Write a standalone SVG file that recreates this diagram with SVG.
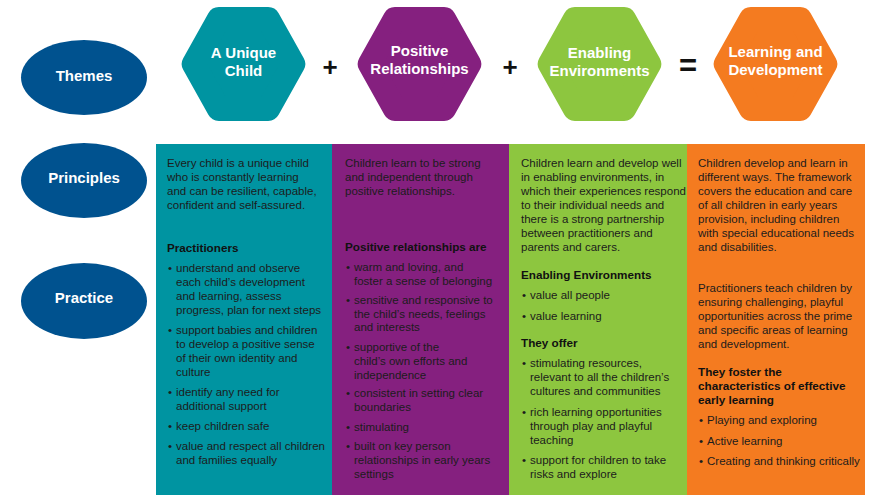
<svg xmlns="http://www.w3.org/2000/svg" xmlns:xlink="http://www.w3.org/1999/xlink" width="889" height="502" viewBox="0 0 889 502">
<style>
.ell{fill:#00528f}
.lbl{font-family:"Liberation Sans",Arial,sans-serif;font-weight:bold;font-size:15px;fill:#fff;text-anchor:middle}
.op{font-family:"Liberation Sans",Arial,sans-serif;font-weight:bold;fill:#111;text-anchor:middle}
.hex{stroke-width:24;stroke-linejoin:round}
.teal{fill:#0094a1;stroke:#0094a1}
.purple{fill:#85207f;stroke:#85207f}
.green{fill:#8dc63f;stroke:#8dc63f}
.orange{fill:#f47b20;stroke:#f47b20}
.tx{font-family:"Liberation Sans",Arial,sans-serif;font-size:11.5px;fill:#1c1c1c}
.hd{font-family:"Liberation Sans",Arial,sans-serif;font-size:11.7px;font-weight:bold;fill:#111}
</style>
<defs>
<polygon id="hexshape" points="-49.8,0 -24.65,-45 24.65,-45 49.8,0 24.65,45 -24.65,45"/>
</defs>
<rect width="889" height="502" fill="#fff"/>

<g id="themes">
<ellipse class="ell" cx="84" cy="77.5" rx="63" ry="37.5"/>
<text class="lbl" x="84" y="81">Themes</text>
</g>
<g id="principles">
<ellipse class="ell" cx="84" cy="180.5" rx="63" ry="37.5"/>
<text class="lbl" x="84" y="183">Principles</text>
</g>
<g id="practice">
<ellipse class="ell" cx="84" cy="301" rx="63" ry="38"/>
<text class="lbl" x="84" y="303">Practice</text>
</g>

<g id="unique-child">
<use xlink:href="#hexshape" href="#hexshape" class="hex teal" transform="translate(243.5,64)"/>
<text class="lbl" x="243.5" y="58">A Unique</text>
<text class="lbl" x="243.5" y="76">Child</text>
</g>
<g id="positive-relationships">
<use xlink:href="#hexshape" href="#hexshape" class="hex purple" transform="translate(419.5,64)"/>
<text class="lbl" x="419.5" y="56">Positive</text>
<text class="lbl" x="419.5" y="74">Relationships</text>
</g>
<g id="enabling-environments">
<use xlink:href="#hexshape" href="#hexshape" class="hex green" transform="translate(599.5,64)"/>
<text class="lbl" x="599.5" y="58">Enabling</text>
<text class="lbl" x="599.5" y="76">Environments</text>
</g>
<g id="learning-development">
<use xlink:href="#hexshape" href="#hexshape" class="hex orange" transform="translate(775.5,64)"/>
<text class="lbl" x="775.5" y="57">Learning and</text>
<text class="lbl" x="775.5" y="75">Development</text>
</g>

<g id="connectors">
<text class="op" x="330" y="76" font-size="26">+</text>
<text class="op" x="510" y="76" font-size="26">+</text>
<text class="op" x="688" y="76" font-size="31">=</text>
</g>

<g id="col-unique-child">
<rect x="156" y="144" width="176" height="351" fill="#0094a1"/>
<text class="tx" x="167" y="167">Every child is a unique child</text>
<text class="tx" x="167" y="181">who is constantly learning</text>
<text class="tx" x="167" y="195">and can be resilient, capable,</text>
<text class="tx" x="167" y="209">confident and self-assured.</text>
<text class="hd" x="167" y="252">Practitioners</text>
<text class="tx" x="168" y="272">•</text>
<text class="tx" x="176" y="272">understand and observe</text>
<text class="tx" x="176" y="286">each child’s development</text>
<text class="tx" x="176" y="300">and learning, assess</text>
<text class="tx" x="176" y="314">progress, plan for next steps</text>
<text class="tx" x="168" y="334">•</text>
<text class="tx" x="176" y="334">support babies and children</text>
<text class="tx" x="176" y="348">to develop a positive sense</text>
<text class="tx" x="176" y="362">of their own identity and</text>
<text class="tx" x="176" y="376">culture</text>
<text class="tx" x="168" y="396">•</text>
<text class="tx" x="176" y="396">identify any need for</text>
<text class="tx" x="176" y="410">additional support</text>
<text class="tx" x="168" y="430">•</text>
<text class="tx" x="176" y="430">keep children safe</text>
<text class="tx" x="168" y="450">•</text>
<text class="tx" x="176" y="450">value and respect all children</text>
<text class="tx" x="176" y="464">and families equally</text>
</g>

<g id="col-positive-relationships">
<rect x="332" y="144" width="177" height="351" fill="#85207f"/>
<text class="tx" x="345" y="167">Children learn to be strong</text>
<text class="tx" x="345" y="181">and independent through</text>
<text class="tx" x="345" y="195">positive relationships.</text>
<text class="hd" x="345" y="251">Positive relationships are</text>
<text class="tx" x="346" y="271">•</text>
<text class="tx" x="354" y="271">warm and loving, and</text>
<text class="tx" x="354" y="285">foster a sense of belonging</text>
<text class="tx" x="346" y="304">•</text>
<text class="tx" x="354" y="304">sensitive and responsive to</text>
<text class="tx" x="354" y="318">the child’s needs, feelings</text>
<text class="tx" x="354" y="331">and interests</text>
<text class="tx" x="346" y="351">•</text>
<text class="tx" x="354" y="351">supportive of the</text>
<text class="tx" x="354" y="365">child’s own efforts and</text>
<text class="tx" x="354" y="379">independence</text>
<text class="tx" x="346" y="397">•</text>
<text class="tx" x="354" y="397">consistent in setting clear</text>
<text class="tx" x="354" y="411">boundaries</text>
<text class="tx" x="346" y="431">•</text>
<text class="tx" x="354" y="431">stimulating</text>
<text class="tx" x="346" y="450">•</text>
<text class="tx" x="354" y="450">built on key person</text>
<text class="tx" x="354" y="464">relationships in early years</text>
<text class="tx" x="354" y="478">settings</text>
</g>

<g id="col-enabling-environments">
<rect x="509" y="144" width="178" height="351" fill="#8dc63f"/>
<text class="tx" x="521" y="167">Children learn and develop well</text>
<text class="tx" x="521" y="181">in enabling environments, in</text>
<text class="tx" x="521" y="195">which their experiences respond</text>
<text class="tx" x="521" y="209">to their individual needs and</text>
<text class="tx" x="521" y="223">there is a strong partnership</text>
<text class="tx" x="521" y="237">between practitioners and</text>
<text class="tx" x="521" y="251">parents and carers.</text>
<text class="hd" x="521" y="279">Enabling Environments</text>
<text class="tx" x="522" y="299">•</text>
<text class="tx" x="530" y="299">value all people</text>
<text class="tx" x="522" y="320">•</text>
<text class="tx" x="530" y="320">value learning</text>
<text class="hd" x="521" y="347">They offer</text>
<text class="tx" x="522" y="367">•</text>
<text class="tx" x="530" y="367">stimulating resources,</text>
<text class="tx" x="530" y="381">relevant to all the children’s</text>
<text class="tx" x="530" y="395">cultures and communities</text>
<text class="tx" x="522" y="416">•</text>
<text class="tx" x="530" y="416">rich learning opportunities</text>
<text class="tx" x="530" y="430">through play and playful</text>
<text class="tx" x="530" y="444">teaching</text>
<text class="tx" x="522" y="464">•</text>
<text class="tx" x="530" y="464">support for children to take</text>
<text class="tx" x="530" y="478">risks and explore</text>
</g>

<g id="col-learning-development">
<rect x="687" y="144" width="178" height="351" fill="#f47b20"/>
<text class="tx" x="698" y="167">Children develop and learn in</text>
<text class="tx" x="698" y="181">different ways. The framework</text>
<text class="tx" x="698" y="195">covers the education and care</text>
<text class="tx" x="698" y="209">of all children in early years</text>
<text class="tx" x="698" y="223">provision, including children</text>
<text class="tx" x="698" y="237">with special educational needs</text>
<text class="tx" x="698" y="251">and disabilities.</text>
<text class="tx" x="698" y="292">Practitioners teach children by</text>
<text class="tx" x="698" y="306">ensuring challenging, playful</text>
<text class="tx" x="698" y="320">opportunities across the prime</text>
<text class="tx" x="698" y="334">and specific areas of learning</text>
<text class="tx" x="698" y="348">and development.</text>
<text class="hd" x="698" y="376">They foster the</text>
<text class="hd" x="698" y="390">characteristics of effective</text>
<text class="hd" x="698" y="404">early learning</text>
<text class="tx" x="699" y="424">•</text>
<text class="tx" x="707" y="424">Playing and exploring</text>
<text class="tx" x="699" y="445">•</text>
<text class="tx" x="707" y="445">Active learning</text>
<text class="tx" x="699" y="465">•</text>
<text class="tx" x="707" y="465">Creating and thinking critically</text>
</g>
</svg>
